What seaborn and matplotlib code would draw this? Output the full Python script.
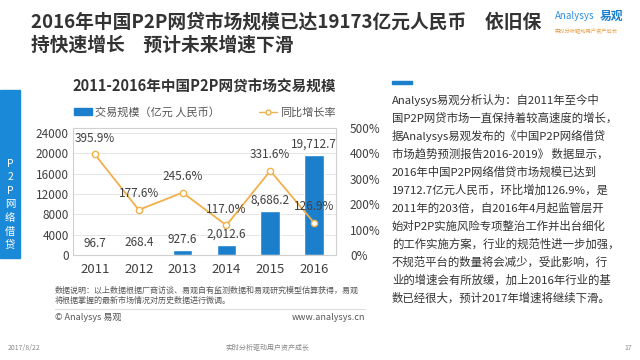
import numpy as np
import pandas as pd
import seaborn as sns
import matplotlib.pyplot as plt
from matplotlib.patches import Rectangle
from matplotlib.lines import Line2D

years = ["2011", "2012", "2013", "2014", "2015", "2016"]
volume = [96.7, 268.4, 927.6, 2012.6, 8686.2, 19712.7]
volume_labels = ["96.7", "268.4", "927.6", "2,012.6", "8,686.2", "19,712.7"]
growth = [395.9, 177.6, 245.6, 117.0, 331.6, 126.9]
left_ticks = [0, 4000, 8000, 12000, 16000, 20000, 24000]
right_ticks = [0, 100, 200, 300, 400, 500]

body_lines = [
    "Analysys易观分析认为：自2011年至今中",
    "国P2P网贷市场一直保持着较高速度的增长，",
    "据Analysys易观发布的《中国P2P网络借贷",
    "市场趋势预测报告2016-2019》 数据显示，",
    "2016年中国P2P网络借贷市场规模已达到",
    "19712.7亿元人民币，环比增加126.9%，是",
    "2011年的203倍，自2016年4月起监管层开",
    "始对P2P实施风险专项整治工作并出台细化",
    "的工作实施方案，行业的规范性进一步加强，",
    "不规范平台的数量将会减少，受此影响，行",
    "业的增速会有所放缓，加上2016年行业的基",
    "数已经很大，预计2017年增速将继续下滑。",
]

sns.set_theme(style="white")
plt.rcParams['font.family'] = ['Noto Sans CJK SC', 'DejaVu Sans']

BLUE = "#1b7fcc"
ORANGE = "#f0b04a"
TXT = "#404040"

W, H = 640, 360
fig = plt.figure(figsize=(6.4, 3.6), dpi=100)


def px(x, y):
    return x / W, 1 - y / H


# titles
fig.text(*px(31, 22), "2016年中国P2P网贷市场规模已达19173亿元人民币　依旧保",
         fontsize=13.5, fontweight="bold", color="#333333", va="center")
fig.text(*px(31, 45), "持快速增长　预计未来增速下滑",
         fontsize=13.5, fontweight="bold", color="#333333", va="center")
fig.text(*px(555, 16), "Analysys", fontsize=7, color="#2f8fd8", style="italic", va="center")
fig.text(*px(600, 16), "易观", fontsize=8.5, color="#1b7fcc", fontweight="bold", va="center")
fig.text(*px(555, 30), "实时分析驱动用户资产成长", fontsize=3.8, color="#e8a04a", va="center")

# left sidebar
fig.patches.append(Rectangle(px(0, 258), 20 / W, 168 / H, transform=fig.transFigure,
                             color="#1a8ad8", zorder=0))
for i, ch in enumerate("P2P网络借贷"):
    fig.text(*px(10, 164 + i * 13.5), ch, fontsize=7.5, color="white",
             ha="center", va="center")

# chart title and legend
fig.text(*px(204, 87), "2011-2016年中国P2P网贷市场交易规模", fontsize=10.5,
         fontweight="bold", color="#333333", ha="center", va="center")

ax = fig.add_axes([73 / W, (H - 255) / H, 263 / W, 127 / H])
df = pd.DataFrame({"year": years, "volume": volume})
sns.barplot(data=df, x="year", y="volume", ax=ax, color=BLUE, width=0.45,
            saturation=1, zorder=2)
ax.set_ylim(0, 25000)
ax.set_xlim(-0.5, len(years) - 0.5)
ax.set_yticks(left_ticks)
ax.set_yticklabels([str(t) for t in left_ticks])
ax.tick_params(axis="y", labelsize=8.5, colors=TXT, pad=3, length=0)
ax.tick_params(axis="x", labelsize=9.5, colors=TXT, pad=6, length=0)
ax.set_xlabel("")
ax.set_ylabel("")
ax.grid(axis="y", color="#e6e6e6", linewidth=0.7, zorder=0)
for s in ax.spines.values():
    s.set_color("#d0d0d0")
    s.set_linewidth(0.8)
for i, (v, lab) in enumerate(zip(volume, volume_labels)):
    ax.annotate(lab, (i, v), xytext=(0, 3), textcoords="offset points",
                ha="center", va="bottom", fontsize=8.5, color=TXT)

ax2 = ax.twinx()
sns.lineplot(x=np.arange(len(years)), y=growth, ax=ax2, color=ORANGE, linewidth=1.3,
             marker="o", markersize=4.5, markerfacecolor="white",
             markeredgecolor=ORANGE, markeredgewidth=1, zorder=3)
ax2.set_ylim(0, 500)
ax2.set_yticks(right_ticks)
ax2.set_yticklabels([f"{t}%" for t in right_ticks])
ax2.tick_params(axis="y", labelsize=8.5, colors=TXT, pad=10, length=0)
ax2.set_ylabel("")
for s in ax2.spines.values():
    s.set_visible(False)
for i, g in enumerate(growth):
    ax2.annotate(f"{g:.1f}%", (i, g), xytext=(0, 7), textcoords="offset points",
                 ha="center", va="bottom", fontsize=8.5, color=TXT)

handles = [Rectangle((0, 0), 1, 1, color=BLUE),
           Line2D([0], [0], color=ORANGE, marker="o", markerfacecolor="white",
                  markersize=3.5, linewidth=1)]
fig.legend(handles, ["交易规模（亿元 人民币）", "同比增长率"], loc="center",
           bbox_to_anchor=px(205, 112), ncol=2, frameon=False, fontsize=8,
           handlelength=1.6, handleheight=0.6, columnspacing=3.5, handletextpad=0.3,
           labelcolor="#555555")

# notes
fig.text(*px(55, 290), "数据说明：以上数据根据厂商访谈、易观自有监测数据和易观研究模型估算获得，易观",
         fontsize=5.8, color="#555555", va="center")
fig.text(*px(55, 300), "将根据掌握的最新市场情况对历史数据进行微调。",
         fontsize=5.8, color="#555555", va="center")
fig.lines.append(Line2D([55 / W, 365 / W], [1 - 309 / H, 1 - 309 / H],
                        transform=fig.transFigure, color="#dddddd", linewidth=0.8))
fig.text(*px(55, 318), "© Analysys 易观", fontsize=6.5, color="#555555", va="center")
fig.text(*px(365, 318), "www.analysys.cn", fontsize=6.5, color="#555555",
         va="center", ha="right")

# right text
fig.patches.append(Rectangle(px(392, 84), 20 / W, 3 / H, transform=fig.transFigure,
                             color="#1b7fcc"))
for i, line in enumerate(body_lines):
    fig.text(*px(392, 100 + i * 18), line, fontsize=8.2, color="#333333", va="center")

# footer
fig.text(*px(8, 348), "2017/8/22", fontsize=5, color="#888888", va="center")
fig.text(*px(268, 348), "实时分析驱动用户资产成长", fontsize=5, color="#888888",
         va="center", ha="center")
fig.text(*px(632, 348), "17", fontsize=5, color="#888888", va="center", ha="right")

fig.savefig("out.png", dpi=100)
